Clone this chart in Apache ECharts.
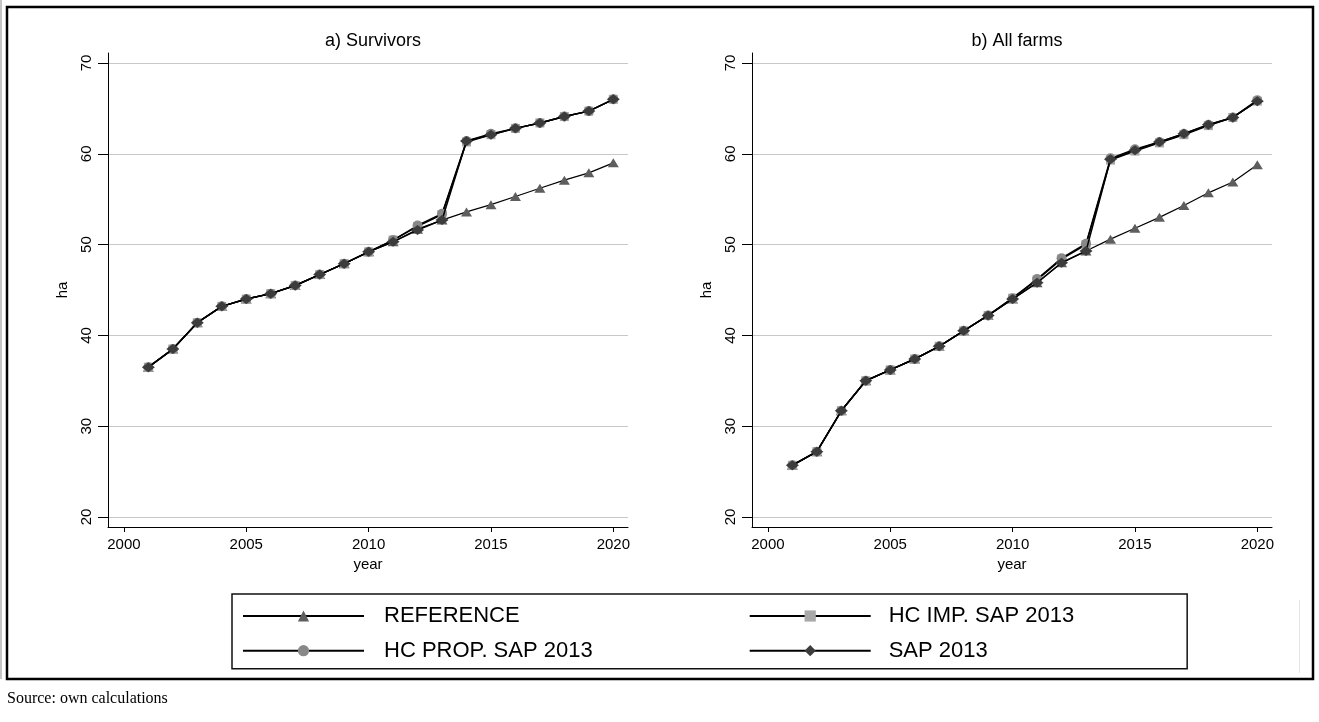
<!DOCTYPE html>
<html>
<head>
<meta charset="utf-8">
<script src="https://cdn.jsdelivr.net/npm/echarts@6/dist/echarts.min.js"></script>
<style>
  html, body { margin: 0; padding: 0; background: #fff; }
  #chart { width: 1319px; height: 722px; }
</style>
</head>
<body>
<div id="chart"></div>
<script>
// ---- data ----
const years = [2001, 2002, 2003, 2004, 2005, 2006, 2007, 2008, 2009, 2010,
               2011, 2012, 2013, 2014, 2015, 2016, 2017, 2018, 2019, 2020];

// a) Survivors
const refA    = [36.5, 38.5, 41.4, 43.2, 44.0, 44.6, 45.5, 46.7, 47.9, 49.2, 50.3, 51.7, 52.7, 53.6, 54.4, 55.3, 56.2, 57.1, 57.9, 59.0];
const hcImpA  = [36.5, 38.5, 41.4, 43.2, 44.0, 44.6, 45.5, 46.7, 47.9, 49.2, 50.5, 52.0, 53.3, 61.3, 62.1, 62.8, 63.4, 64.1, 64.7, 66.0];
const hcPropA = [36.5, 38.5, 41.4, 43.2, 44.0, 44.6, 45.5, 46.7, 47.9, 49.2, 50.5, 52.1, 53.4, 61.4, 62.2, 62.8, 63.4, 64.1, 64.7, 66.0];
const sapA    = [36.5, 38.5, 41.4, 43.2, 44.0, 44.6, 45.5, 46.7, 47.9, 49.2, 50.3, 51.6, 52.7, 61.4, 62.1, 62.8, 63.4, 64.1, 64.7, 66.0];

// b) All farms
const refB    = [25.7, 27.2, 31.7, 35.0, 36.2, 37.4, 38.8, 40.5, 42.2, 44.0, 45.8, 48.0, 49.3, 50.6, 51.8, 53.0, 54.3, 55.7, 56.9, 58.8];
const hcImpB  = [25.7, 27.2, 31.7, 35.0, 36.2, 37.4, 38.8, 40.5, 42.2, 44.1, 46.1, 48.4, 50.0, 59.3, 60.3, 61.2, 62.1, 63.1, 64.0, 65.8];
const hcPropB = [25.7, 27.2, 31.7, 35.0, 36.2, 37.4, 38.8, 40.5, 42.2, 44.1, 46.2, 48.5, 50.1, 59.5, 60.5, 61.3, 62.2, 63.2, 64.0, 65.9];
const sapB    = [25.7, 27.2, 31.7, 35.0, 36.2, 37.4, 38.8, 40.5, 42.2, 44.0, 45.8, 48.0, 49.3, 59.4, 60.4, 61.3, 62.2, 63.2, 64.0, 65.8];

const xTicks = [2000, 2005, 2010, 2015, 2020];
const yTicks = [20, 30, 40, 50, 60, 70];

const seriesNames = ['REFERENCE', 'HC IMP. SAP 2013', 'HC PROP. SAP 2013', 'SAP 2013'];
const panelTitles = ['a) Survivors', 'b) All farms'];
const xName = 'year';
const yName = 'ha';
const sourceNote = 'Source: own calculations';

// ---- styling ----
const FONT = '"Liberation Sans", Arial, sans-serif';
const styles = [
  { symbol: 'triangle', size: [11, 9],  color: '#5e5e5e', width: 1.2 },
  { symbol: 'rect',     size: [9, 9],   color: '#a8a8a8', width: 1.5 },
  { symbol: 'circle',   size: [10, 10], color: '#888888', width: 1.5 },
  { symbol: 'diamond',  size: [13, 10], color: '#3c3c3c', width: 1.5 }
];

const panels = [
  [refA, hcImpA, hcPropA, sapA],
  [refB, hcImpB, hcPropB, sapB]
];

const grids = [
  { left: 108, top: 53, width: 520, height: 474 },
  { left: 752, top: 53, width: 520, height: 474 }
];

function xAxisFor(i) {
  return {
    type: 'value', gridIndex: i, min: 1999.35, max: 2020.6,
    axisLine: { show: true, onZero: false, lineStyle: { color: '#000', width: 1 } },
    axisTick: { show: true, customValues: xTicks, length: 5, lineStyle: { color: '#000' } },
    axisLabel: { customValues: xTicks, fontSize: 15, color: '#000', margin: 10, fontFamily: FONT,
                 formatter: v => String(v) },
    splitLine: { show: false },
    name: xName, nameLocation: 'middle', nameGap: 27,
    nameTextStyle: { fontSize: 15, color: '#000', fontFamily: FONT }
  };
}
function yAxisFor(i) {
  return {
    type: 'value', gridIndex: i, min: 18.9, max: 71.1,
    axisLine: { show: true, onZero: false, lineStyle: { color: '#000', width: 1 } },
    axisTick: { show: true, customValues: yTicks, length: 10, lineStyle: { color: '#000' } },
    axisLabel: { customValues: yTicks, rotate: 90, fontSize: 15, color: '#000', margin: 14, fontFamily: FONT,
                 formatter: v => String(v) },
    splitLine: { show: true, lineStyle: { color: '#c8c8c8', width: 1.2 } },
    name: yName, nameLocation: 'middle', nameGap: 38,
    nameTextStyle: { fontSize: 15, color: '#000', fontFamily: FONT }
  };
}

const series = [];
panels.forEach((arrs, p) => {
  arrs.forEach((arr, k) => {
    const st = styles[k];
    series.push({
      type: 'line', name: seriesNames[k],
      xAxisIndex: p, yAxisIndex: p,
      data: years.map((yr, i) => [yr, arr[i]]),
      symbol: st.symbol, symbolSize: st.size, showSymbol: true,
      itemStyle: { color: st.color, borderWidth: 0 },
      lineStyle: { color: '#000', width: st.width },
      emphasis: { disabled: true },
      z: 2 + k
    });
  });
});

const leftCol = { 'REFERENCE': true, 'HC PROP. SAP 2013': true };

const option = {
  animation: false,
  backgroundColor: '#fff',
  title: [
    { text: panelTitles[0], left: 368, top: 27, textAlign: 'center',
      textStyle: { fontSize: 18, fontWeight: 'normal', color: '#000', fontFamily: FONT } },
    { text: panelTitles[1], left: 1012, top: 27, textAlign: 'center',
      textStyle: { fontSize: 18, fontWeight: 'normal', color: '#000', fontFamily: FONT } },
    { text: sourceNote, left: 7, top: 691, padding: 0,
      textStyle: { fontSize: 16, fontWeight: 'normal', color: '#000', fontFamily: '"Liberation Serif", "Times New Roman", serif' } }
  ],
  grid: grids.map(g => Object.assign({ containLabel: false, outerBoundsMode: 'none' }, g)),
  xAxis: [xAxisFor(0), xAxisFor(1)],
  yAxis: [yAxisFor(0), yAxisFor(1)],
  legend: {
    data: seriesNames,
    left: 232, top: 594, width: 900,
    orient: 'horizontal',
    padding: [10, 113, 6, 10],
    itemGap: 10.7,
    itemWidth: 121, itemHeight: 14,
    borderColor: '#111', borderWidth: 1.5,
    selectedMode: false,
    formatter: name => (leftCol[name] ? '{l|' + name + '}' : '{r|' + name + '}'),
    textStyle: {
      fontSize: 22, color: '#000', fontFamily: FONT, lineHeight: 24,
      rich: {
        l: { fontSize: 22, fontFamily: FONT, color: '#000', lineHeight: 24, width: 354, padding: [0, 0, 0, 15] },
        r: { fontSize: 22, fontFamily: FONT, color: '#000', lineHeight: 24, padding: [0, 0, 0, 13] }
      }
    }
  },
  graphic: [
    { type: 'rect', silent: true, z: 100,
      shape: { x: 7, y: 7, width: 1306, height: 672 },
      style: { fill: 'none', stroke: '#000', lineWidth: 2.5 } },
    { type: 'line', silent: true, z: 100,
      shape: { x1: 1, y1: 0, x2: 1, y2: 679 },
      style: { stroke: '#b0b0b0', lineWidth: 1.5 } },
    { type: 'line', silent: true, z: 100,
      shape: { x1: 1299.5, y1: 600, x2: 1299.5, y2: 673 },
      style: { stroke: '#e4e4e4', lineWidth: 1 } }
  ],
  series: series
};

const chart = echarts.init(document.getElementById('chart'), null, { renderer: 'canvas' });
chart.setOption(option);
</script>
</body>
</html>
